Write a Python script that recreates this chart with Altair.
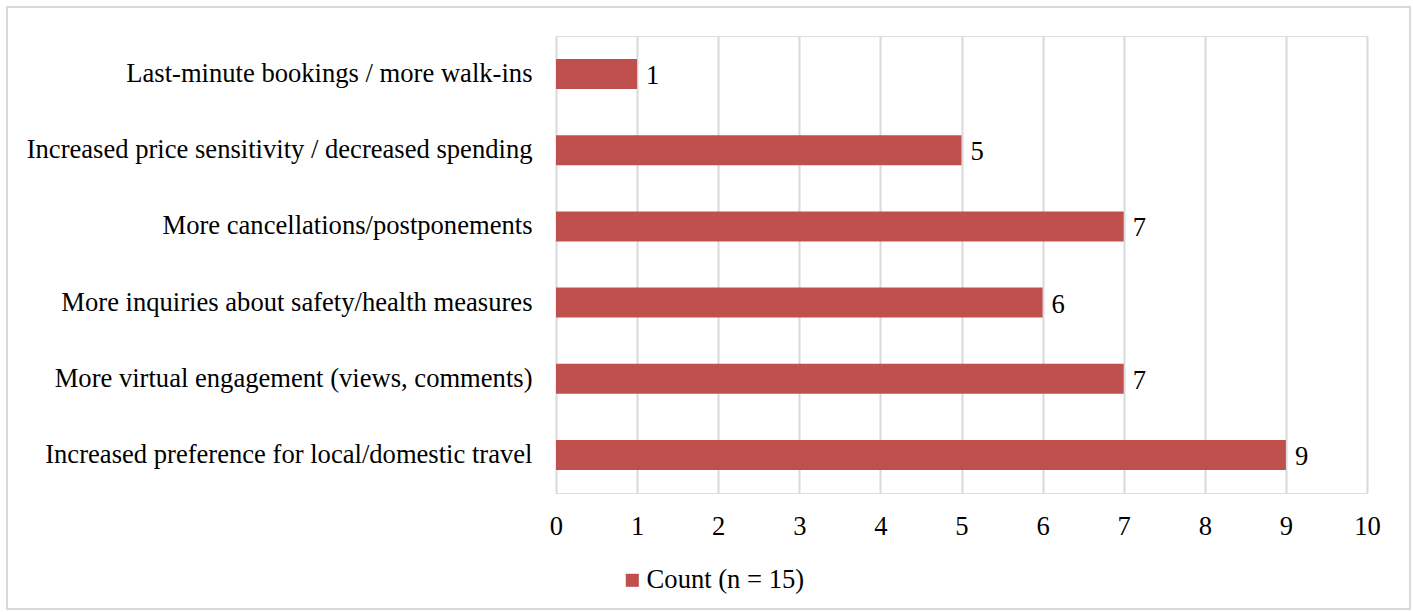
import altair as alt
import pandas as pd

categories = [
    "Last-minute bookings / more walk-ins",
    "Increased price sensitivity / decreased spending",
    "More cancellations/postponements",
    "More inquiries about safety/health measures",
    "More virtual engagement (views, comments)",
    "Increased preference for local/domestic travel",
]
counts = [1, 5, 7, 6, 7, 9]
series_name = "Count (n = 15)"
x_ticks = list(range(0, 11))

df = pd.DataFrame({"category": categories, "count": counts, "series": series_name})

FONT = "Liberation Serif"
FS = 26.6
LEFT, TOP = 556, 36
W, H = 811, 457

y_enc = alt.Y("category:N", sort=categories, title=None,
              scale=alt.Scale(paddingInner=0.6, paddingOuter=0.3),
              axis=alt.Axis(domain=False, ticks=False, labelFont=FONT, labelFontSize=FS,
                            labelColor="#000000", labelPadding=24, labelLimit=700))
x_enc = alt.X("count:Q", title=None,
              scale=alt.Scale(domain=[0, 10], nice=False),
              axis=alt.Axis(values=x_ticks, format="d", domain=False, ticks=False, grid=True,
                            gridColor="#d9d9d9", gridWidth=2, labelFont=FONT,
                            labelFlush=False, labelOverlap=False,
                            labelFontSize=FS, labelColor="#000000", labelPadding=20))

bars = alt.Chart(df).mark_bar(size=30).encode(
    x=x_enc, y=y_enc,
    color=alt.Color("series:N", title=None,
                    scale=alt.Scale(range=["#C0504D"]),
                    legend=alt.Legend(orient="none", legendX=63, legendY=531,
                                      symbolType="square", symbolSize=170,
                                      symbolStrokeWidth=0, labelFont=FONT,
                                      labelFontSize=FS, labelColor="#000000",
                                      symbolOffset=0, labelOffset=1)),
)

labels = alt.Chart(df).mark_text(align="left", baseline="middle", dx=9, dy=2,
                                 font=FONT, fontSize=FS, color="#000000").encode(
    x="count:Q", y=alt.Y("category:N", sort=categories), text="count:Q")

border = alt.Chart(df).mark_rect(fill=None, stroke="#d9d9d9", strokeWidth=2).encode(
    x=alt.value(7 - LEFT), x2=alt.value(1410 - LEFT),
    y=alt.value(7 - TOP), y2=alt.value(609 - TOP))

chart = alt.layer(bars, labels, border).properties(
    width=W, height=H,
    autosize=alt.AutoSizeParams(type="none"),
    padding={"left": LEFT, "top": TOP, "right": 1413 - LEFT - W, "bottom": 612 - TOP - H},
).configure_view(stroke=None).configure(background="#ffffff")

chart.save("out.html", embed_options={"renderer": "svg", "actions": False})
